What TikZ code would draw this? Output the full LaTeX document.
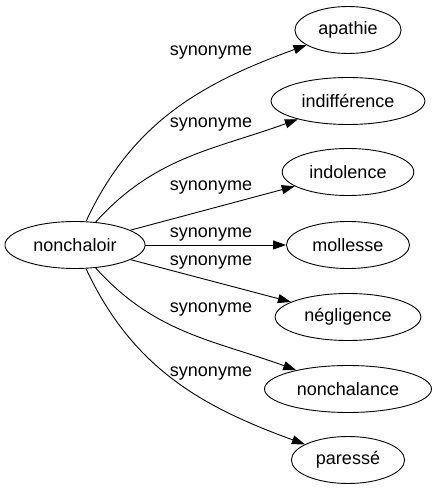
\documentclass[tikz,border=0pt]{standalone}
\usepackage{fontspec}
\setmainfont{Liberation Sans}
\usetikzlibrary{arrows.meta}
\usetikzlibrary{shapes.geometric}
\usetikzlibrary{positioning}

\begin{document}
\begin{tikzpicture}[x=1pt,y=1pt]
  \useasboundingbox (0,0) rectangle (433,491);

  \begin{scope}[
      word/.style={draw, ellipse, line width=0.9pt, minimum height=47pt,
        inner xsep=8pt, inner ysep=1pt, font=\fontsize{18}{22}\selectfont},
      rel/.style={inner sep=0pt, font=\fontsize{18}{22}\selectfont},
      ->,>={Triangle[length=13pt,width=9pt]},line width=0.9pt
  ]
    \node (nc) [word] at (75, 246) {nonchaloir};

    \node (apathie)  [word] at (348, 461) {apathie};
    \node (indiff)   [word] at (348, 390) {indifférence};
    \node (indol)    [word] at (348, 319) {indolence};
    \node (moll)     [word] at (348, 246) {mollesse};
    \node (neglig)   [word] at (348, 174) {négligence};
    \node (nonchal)  [word] at (348, 102) {nonchalance};
    \node (paresse)  [word] at (348, 31)  {paressé};

    \foreach \i/\y in {1/438,2/366,3/303,4/256,5/228,6/181,7/117} {
      \node (syn\i) [rel] at (211, \y) {synonyme};
    }

    \path (nc) edge [out=65,in=200]  (apathie)
               edge [out=48,in=200]  (indiff)
               edge                  (indol)
               edge                  (moll)
               edge                  (neglig)
               edge [out=-48,in=160] (nonchal)
               edge [out=-65,in=160] (paresse);
  \end{scope}
\end{tikzpicture}
\end{document}
